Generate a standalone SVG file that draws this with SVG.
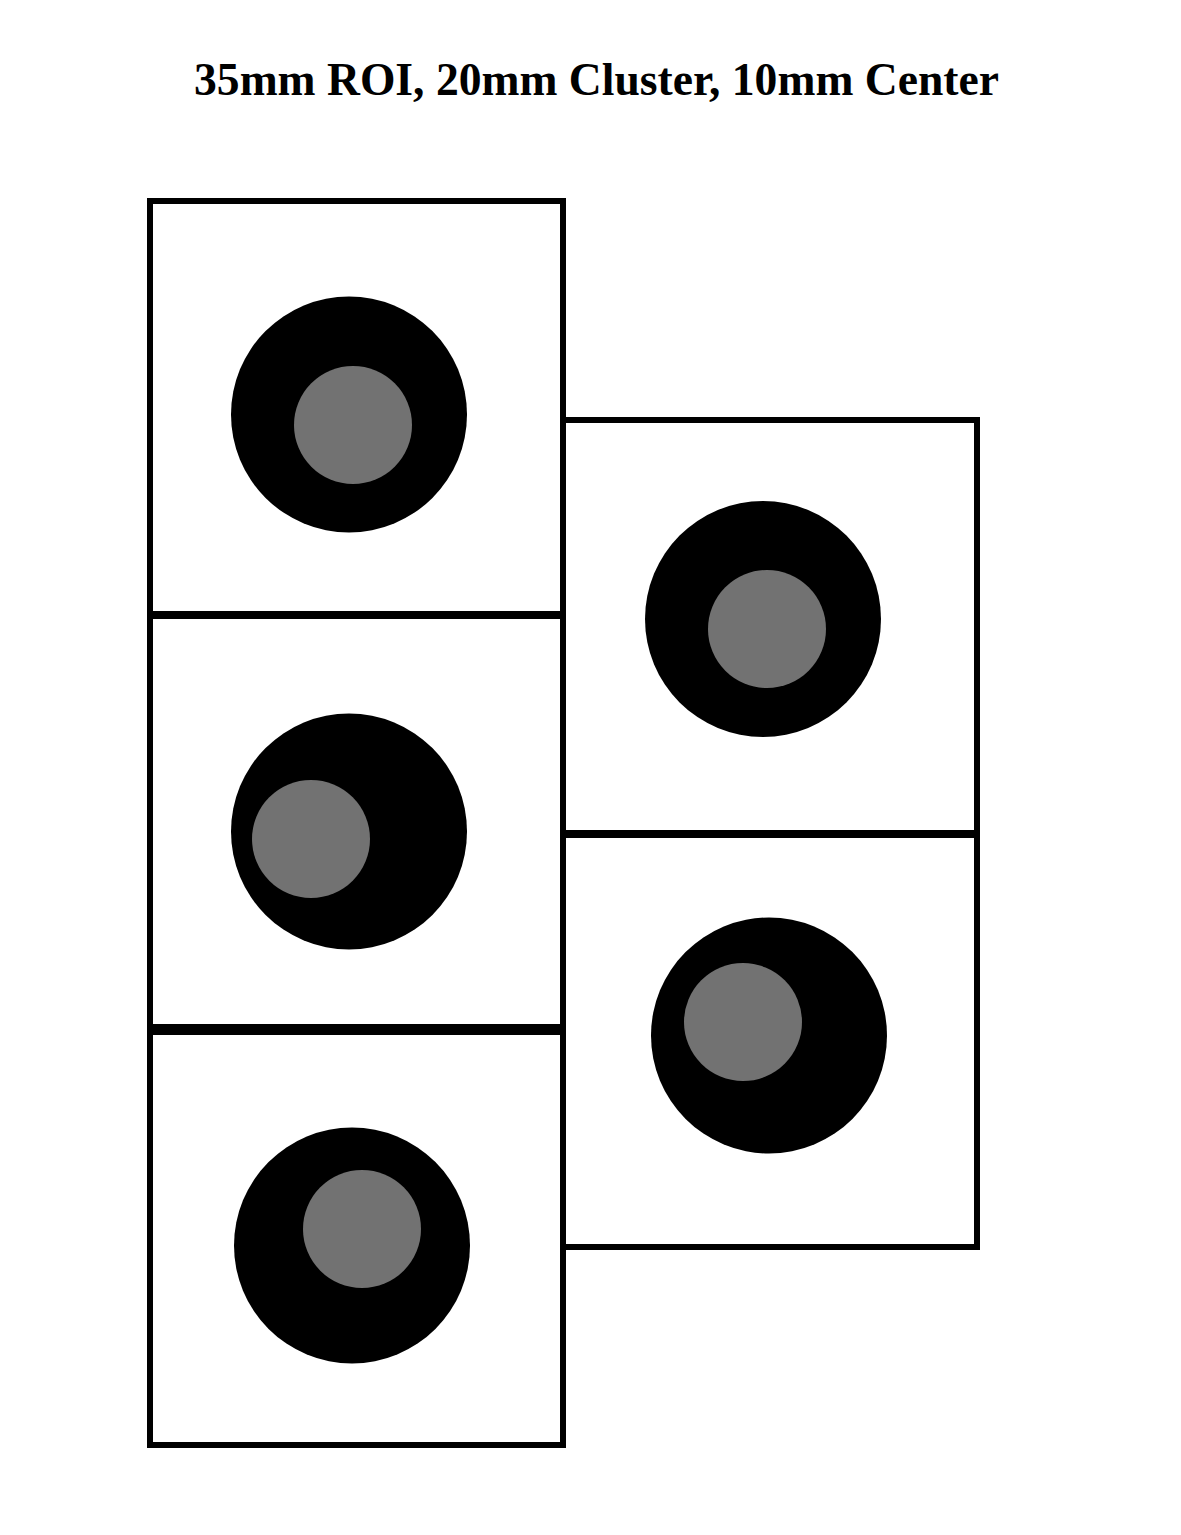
<svg xmlns="http://www.w3.org/2000/svg" width="1181" height="1535" viewBox="0 0 1181 1535">
<style>
.box{fill:none;stroke:#000;stroke-width:6}
.roi{fill:#000}
.ctr{fill:#727272}
.title{font-family:"Liberation Serif","Times New Roman",serif;font-weight:bold;font-size:45.6px;fill:#000}
</style>
<rect width="1181" height="1535" fill="#fff"/>
<text class="title" x="596.5" y="95" text-anchor="middle">35mm ROI, 20mm Cluster, 10mm Center</text>
<g id="panel1">
<rect class="box" x="150" y="201" width="413" height="413"/>
<circle class="roi" cx="349" cy="414.5" r="118"/>
<circle class="ctr" cx="353" cy="425" r="59"/>
</g>
<g id="panel2">
<rect class="box" x="150" y="616" width="413" height="411"/>
<circle class="roi" cx="349" cy="831.5" r="118"/>
<circle class="ctr" cx="311" cy="839" r="59"/>
</g>
<g id="panel3">
<rect class="box" x="150" y="1032" width="413" height="413"/>
<circle class="roi" cx="352" cy="1245.5" r="118"/>
<circle class="ctr" cx="362" cy="1229" r="59"/>
</g>
<g id="panel4">
<rect class="box" x="563" y="420" width="414" height="413"/>
<circle class="roi" cx="763" cy="619" r="118"/>
<circle class="ctr" cx="767" cy="629" r="59"/>
</g>
<g id="panel5">
<rect class="box" x="563" y="835" width="414" height="412"/>
<circle class="roi" cx="769" cy="1035.5" r="118"/>
<circle class="ctr" cx="743" cy="1022" r="59"/>
</g>
<g id="connectors"></g>
</svg>
